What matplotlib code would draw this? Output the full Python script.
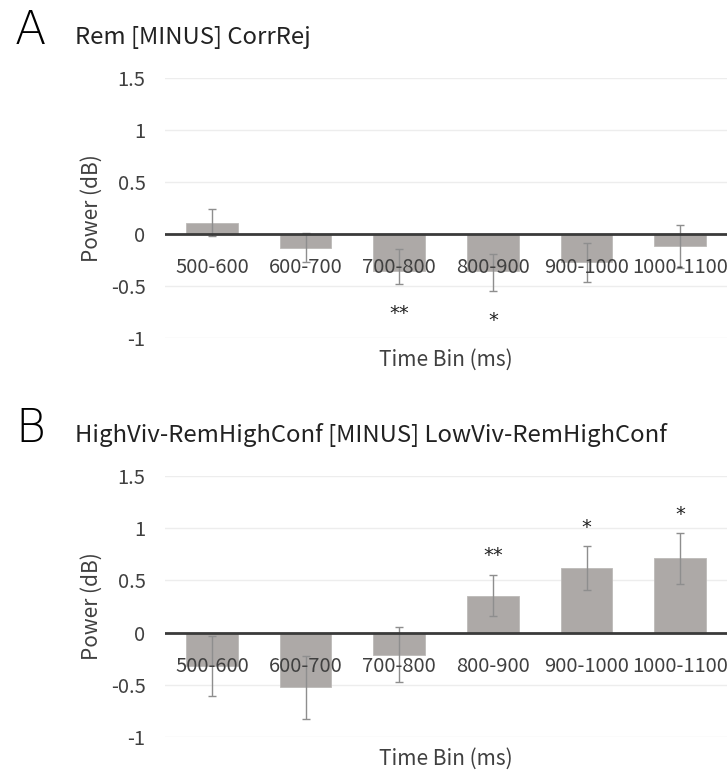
import numpy as np
import matplotlib
matplotlib.use('Agg')
import matplotlib.pyplot as plt

plt.rcParams['font.family'] = ['Noto Sans CJK KR', 'DejaVu Sans']

# data
bins = ['500-600', '600-700', '700-800', '800-900', '900-1000', '1000-1100']

a_title = 'Rem [MINUS] CorrRej'
a_power = [0.11, -0.13, -0.36, -0.36, -0.27, -0.12]
a_err_lo = [0.13, 0.14, 0.12, 0.19, 0.19, 0.21]
a_err_hi = [0.13, 0.14, 0.22, 0.17, 0.18, 0.21]
a_stars = ['', '', '**', '*', '', '']

b_title = 'HighViv-RemHighConf [MINUS] LowViv-RemHighConf'
b_power = [-0.32, -0.52, -0.21, 0.355, 0.62, 0.71]
b_err_lo = [0.29, 0.31, 0.26, 0.20, 0.21, 0.24]
b_err_hi = [0.29, 0.30, 0.26, 0.20, 0.21, 0.24]
b_stars = ['', '', '', '**', '*', '*']

yticks = [-1, -0.5, 0, 0.5, 1, 1.5]
ytick_labels = ['-1', '-0.5', '0', '0.5', '1', '1.5']

bar_color = '#ADA9A7'
err_color = '#8E8E8E'

W, H = 727, 773
fig = plt.figure(figsize=(W / 100, H / 100), dpi=100)


def panel(rect, letter, title, power, err_lo, err_hi, stars, base_y):
    ax = fig.add_axes(rect)
    x = np.arange(len(bins))
    ax.bar(x, power, width=0.555, color=bar_color, edgecolor='#BDBAB8',
           linewidth=0.6, zorder=2)
    ax.errorbar(x, power, yerr=[err_lo, err_hi], fmt='none', ecolor=err_color,
                elinewidth=1.0, capsize=3, capthick=1.0, zorder=3)
    ax.axhline(0, color='#3A3A3A', lw=2, zorder=4)

    ax.set_xlim(-0.5, len(bins) - 0.5)
    ax.set_ylim(-1, 1.5)
    ax.set_yticks(yticks)
    ax.set_yticklabels(ytick_labels)
    ax.grid(axis='y', color='#EDEDED', lw=1, zorder=0)
    ax.set_axisbelow(True)
    for s in ax.spines.values():
        s.set_visible(False)
    ax.tick_params(axis='y', length=0, pad=14, labelsize=14.5, labelcolor='#404040')

    # category labels sit just under the zero line, over the bars
    ax.set_xticks([])
    for i, lab in enumerate(bins):
        ax.text(i, -0.32, lab, ha='center', va='center', fontsize=14.5,
                color='#404040', zorder=5)

    for i, st in enumerate(stars):
        if not st:
            continue
        if power[i] < 0:
            yy = power[i] - err_lo[i] - 0.28
        else:
            yy = power[i] + err_hi[i] + 0.18
        ax.text(i, yy, st, ha='center', va='center', fontsize=14,
                color='#222222', zorder=5, family=['DejaVu Sans'])

    ax.text(0.5, -0.085, 'Time Bin (ms)', transform=ax.transAxes,
            ha='center', va='center', fontsize=15, color='#404040')
    ax.text(-0.13, 0.5, 'Power (dB)', transform=ax.transAxes, rotation=90,
            ha='center', va='center', fontsize=15, color='#404040')

    fig.text(15 / W, 1 - base_y / H, letter, fontsize=33, va='baseline',
             ha='left', color='black', family=['DejaVu Sans'], fontweight='light')
    fig.text(75 / W, 1 - base_y / H, title, fontsize=17.2, va='baseline',
             ha='left', color='#222222')
    return ax


panel([165 / W, 1 - 338 / H, 562 / W, 260 / H], 'A', a_title,
      a_power, a_err_lo, a_err_hi, a_stars, 44)
panel([165 / W, 1 - 737 / H, 562 / W, 261 / H], 'B', b_title,
      b_power, b_err_lo, b_err_hi, b_stars, 442)

fig.savefig('out.png', dpi=100)
